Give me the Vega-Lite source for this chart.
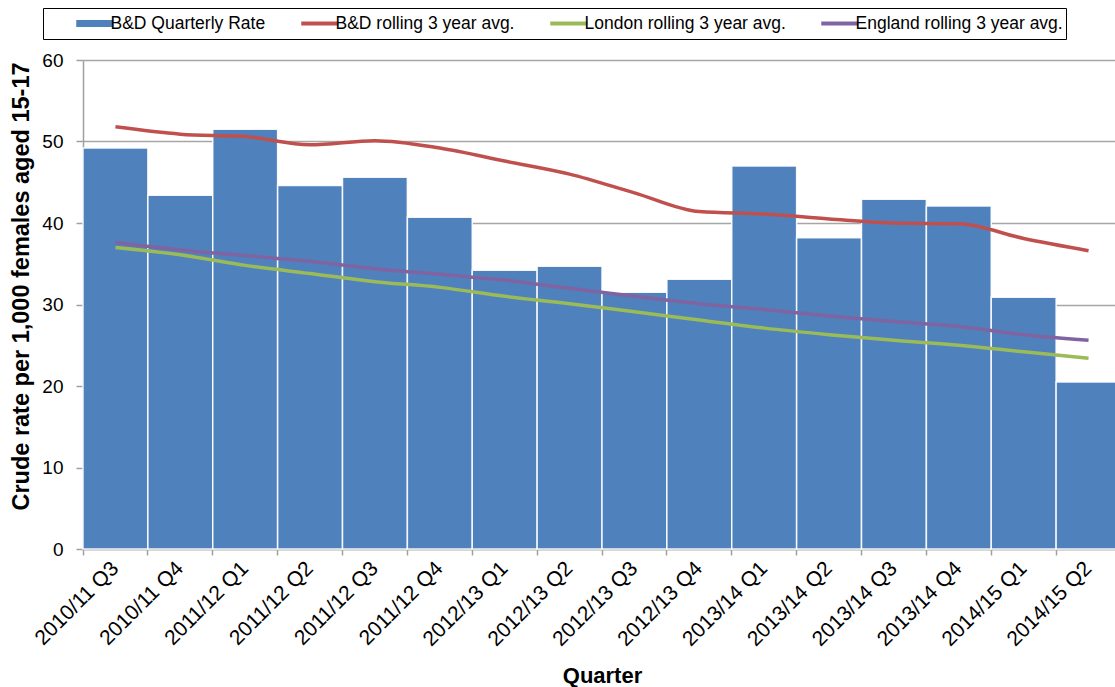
{
  "$schema": "https://vega.github.io/schema/vega-lite/v6.json",
  "width": 1038,
  "height": 489,
  "autosize": "none",
  "padding": {"left": 83, "top": 60, "right": 0, "bottom": 138},
  "background": "white",
  "config": {
    "font": "Liberation Sans",
    "view": {"stroke": null}
  },
  "title": {
    "text": "Source: ONS",
    "orient": "bottom",
    "anchor": "start",
    "frame": "group",
    "dx": -83,
    "offset": 3,
    "fontSize": 17,
    "fontWeight": "normal",
    "color": "#000000",
    "font": "Liberation Sans"
  },
  "datasets": {
    "bars": [
      {"quarter": "2010/11 Q3", "series": "B&D Quarterly Rate", "value": 49.2},
      {"quarter": "2010/11 Q4", "series": "B&D Quarterly Rate", "value": 43.4},
      {"quarter": "2011/12 Q1", "series": "B&D Quarterly Rate", "value": 51.5},
      {"quarter": "2011/12 Q2", "series": "B&D Quarterly Rate", "value": 44.6},
      {"quarter": "2011/12 Q3", "series": "B&D Quarterly Rate", "value": 45.6},
      {"quarter": "2011/12 Q4", "series": "B&D Quarterly Rate", "value": 40.7},
      {"quarter": "2012/13 Q1", "series": "B&D Quarterly Rate", "value": 34.2},
      {"quarter": "2012/13 Q2", "series": "B&D Quarterly Rate", "value": 34.7},
      {"quarter": "2012/13 Q3", "series": "B&D Quarterly Rate", "value": 31.5},
      {"quarter": "2012/13 Q4", "series": "B&D Quarterly Rate", "value": 33.1},
      {"quarter": "2013/14 Q1", "series": "B&D Quarterly Rate", "value": 47.0},
      {"quarter": "2013/14 Q2", "series": "B&D Quarterly Rate", "value": 38.2},
      {"quarter": "2013/14 Q3", "series": "B&D Quarterly Rate", "value": 42.9},
      {"quarter": "2013/14 Q4", "series": "B&D Quarterly Rate", "value": 42.1},
      {"quarter": "2014/15 Q1", "series": "B&D Quarterly Rate", "value": 30.9},
      {"quarter": "2014/15 Q2", "series": "B&D Quarterly Rate", "value": 20.5}
    ],
    "lines": [
      {"quarter": "2010/11 Q3", "series": "B&D rolling 3 year avg.", "value": 51.8},
      {"quarter": "2010/11 Q4", "series": "B&D rolling 3 year avg.", "value": 50.9},
      {"quarter": "2011/12 Q1", "series": "B&D rolling 3 year avg.", "value": 50.6},
      {"quarter": "2011/12 Q2", "series": "B&D rolling 3 year avg.", "value": 49.6},
      {"quarter": "2011/12 Q3", "series": "B&D rolling 3 year avg.", "value": 50.1},
      {"quarter": "2011/12 Q4", "series": "B&D rolling 3 year avg.", "value": 49.2},
      {"quarter": "2012/13 Q1", "series": "B&D rolling 3 year avg.", "value": 47.6},
      {"quarter": "2012/13 Q2", "series": "B&D rolling 3 year avg.", "value": 46.0},
      {"quarter": "2012/13 Q3", "series": "B&D rolling 3 year avg.", "value": 43.7},
      {"quarter": "2012/13 Q4", "series": "B&D rolling 3 year avg.", "value": 41.4},
      {"quarter": "2013/14 Q1", "series": "B&D rolling 3 year avg.", "value": 41.1},
      {"quarter": "2013/14 Q2", "series": "B&D rolling 3 year avg.", "value": 40.5},
      {"quarter": "2013/14 Q3", "series": "B&D rolling 3 year avg.", "value": 40.0},
      {"quarter": "2013/14 Q4", "series": "B&D rolling 3 year avg.", "value": 39.9},
      {"quarter": "2014/15 Q1", "series": "B&D rolling 3 year avg.", "value": 38.1},
      {"quarter": "2014/15 Q2", "series": "B&D rolling 3 year avg.", "value": 36.6},
      {"quarter": "2010/11 Q3", "series": "London rolling 3 year avg.", "value": 37.0},
      {"quarter": "2010/11 Q4", "series": "London rolling 3 year avg.", "value": 36.1},
      {"quarter": "2011/12 Q1", "series": "London rolling 3 year avg.", "value": 34.8},
      {"quarter": "2011/12 Q2", "series": "London rolling 3 year avg.", "value": 33.8},
      {"quarter": "2011/12 Q3", "series": "London rolling 3 year avg.", "value": 32.8},
      {"quarter": "2011/12 Q4", "series": "London rolling 3 year avg.", "value": 32.1},
      {"quarter": "2012/13 Q1", "series": "London rolling 3 year avg.", "value": 31.0},
      {"quarter": "2012/13 Q2", "series": "London rolling 3 year avg.", "value": 30.1},
      {"quarter": "2012/13 Q3", "series": "London rolling 3 year avg.", "value": 29.1},
      {"quarter": "2012/13 Q4", "series": "London rolling 3 year avg.", "value": 28.1},
      {"quarter": "2013/14 Q1", "series": "London rolling 3 year avg.", "value": 27.1},
      {"quarter": "2013/14 Q2", "series": "London rolling 3 year avg.", "value": 26.3},
      {"quarter": "2013/14 Q3", "series": "London rolling 3 year avg.", "value": 25.6},
      {"quarter": "2013/14 Q4", "series": "London rolling 3 year avg.", "value": 25.0},
      {"quarter": "2014/15 Q1", "series": "London rolling 3 year avg.", "value": 24.2},
      {"quarter": "2014/15 Q2", "series": "London rolling 3 year avg.", "value": 23.4},
      {"quarter": "2010/11 Q3", "series": "England rolling 3 year avg.", "value": 37.6},
      {"quarter": "2010/11 Q4", "series": "England rolling 3 year avg.", "value": 36.7},
      {"quarter": "2011/12 Q1", "series": "England rolling 3 year avg.", "value": 36.0},
      {"quarter": "2011/12 Q2", "series": "England rolling 3 year avg.", "value": 35.3},
      {"quarter": "2011/12 Q3", "series": "England rolling 3 year avg.", "value": 34.4},
      {"quarter": "2011/12 Q4", "series": "England rolling 3 year avg.", "value": 33.7},
      {"quarter": "2012/13 Q1", "series": "England rolling 3 year avg.", "value": 33.0},
      {"quarter": "2012/13 Q2", "series": "England rolling 3 year avg.", "value": 32.0},
      {"quarter": "2012/13 Q3", "series": "England rolling 3 year avg.", "value": 31.0},
      {"quarter": "2012/13 Q4", "series": "England rolling 3 year avg.", "value": 30.1},
      {"quarter": "2013/14 Q1", "series": "England rolling 3 year avg.", "value": 29.4},
      {"quarter": "2013/14 Q2", "series": "England rolling 3 year avg.", "value": 28.6},
      {"quarter": "2013/14 Q3", "series": "England rolling 3 year avg.", "value": 27.9},
      {"quarter": "2013/14 Q4", "series": "England rolling 3 year avg.", "value": 27.3},
      {"quarter": "2014/15 Q1", "series": "England rolling 3 year avg.", "value": 26.3},
      {"quarter": "2014/15 Q2", "series": "England rolling 3 year avg.", "value": 25.6}
    ]
  },
  "encoding": {
    "x": {
      "field": "quarter",
      "type": "nominal",
      "sort": null,
      "scale": {"paddingInner": 0, "paddingOuter": 0},
      "axis": {
        "title": "Quarter",
        "titleFontSize": 22,
        "titleFontWeight": "bold",
        "titleColor": "#000000",
        "titlePadding": 16,
        "labelAngle": -45,
        "labelFontSize": 21,
        "labelColor": "#000000",
        "labelBaseline": "middle",
        "labelAlign": "right",
        "labelPadding": 10,
        "bandPosition": 0,
        "domainColor": "#A0A0A0",
        "domainWidth": 1.5,
        "tickColor": "#A0A0A0",
        "tickSize": 6,
        "tickWidth": 1.5,
        "grid": false
      }
    },
    "y": {
      "field": "value",
      "type": "quantitative",
      "scale": {"domain": [0, 60], "nice": false},
      "axis": {
        "title": "Crude rate per 1,000 females aged 15-17",
        "titleFontSize": 23.5,
        "titleFontWeight": "bold",
        "titleColor": "#000000",
        "titlePadding": 8,
        "titleY": 226,
        "values": [0, 10, 20, 30, 40, 50, 60],
        "labelFontSize": 19,
        "labelColor": "#000000",
        "labelPadding": 13,
        "domainColor": "#A0A0A0",
        "domainWidth": 1.5,
        "tickColor": "#A0A0A0",
        "tickSize": 7,
        "tickWidth": 1.5,
        "grid": true,
        "gridColor": "#A6A6A6",
        "gridWidth": 1.5
      }
    },
    "color": {
      "field": "series",
      "type": "nominal",
      "scale": {
        "domain": ["B&D Quarterly Rate", "B&D rolling 3 year avg.", "London rolling 3 year avg.", "England rolling 3 year avg."],
        "range": ["#4F81BD", "#C0504D", "#9BBB59", "#8064A2"]
      },
      "legend": {
        "title": null,
        "orient": "none",
        "legendX": -40,
        "legendY": -52,
        "direction": "horizontal",
        "columns": 4,
        "symbolType": "stroke",
        "symbolSize": 1369,
        "symbolStrokeWidth": 4,
        "symbolOffset": 40,
        "clipHeight": 25,
        "columnPadding": 5,
        "labelFontSize": 17.5,
        "labelLimit": 0,
        "labelColor": "#000000",
        "labelOffset": 7,
        "padding": 3,
        "strokeColor": "#000000",
        "fillColor": "#FFFFFF",
        "cornerRadius": 0,
        "encode": {
          "symbols": {
            "update": {
              "strokeWidth": {"signal": "datum.value === 'B&D Quarterly Rate' ? 7 : 4"}
            }
          }
        }
      }
    }
  },
  "layer": [
    {
      "data": {"name": "bars"},
      "mark": {"type": "bar", "stroke": "#FFFFFF", "strokeWidth": 1.5, "strokeOpacity": 0.9}
    },
    {
      "data": {"name": "lines"},
      "mark": {"type": "line", "strokeWidth": 3.5, "interpolate": "monotone"}
    }
  ]
}
